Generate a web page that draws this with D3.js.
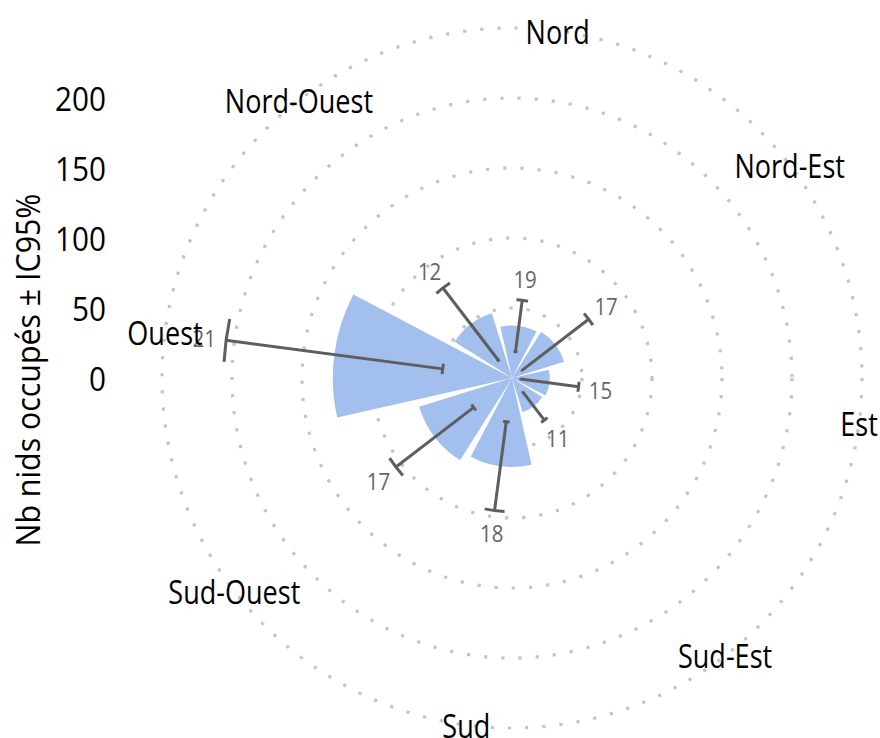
<!DOCTYPE html>
<html>
<head>
<meta charset="utf-8">
<script src="https://cdn.jsdelivr.net/npm/d3@7"></script>
<style>
  html, body { margin: 0; padding: 0; background: #fff; }
  svg text { font-family: "Open Sans", "Noto Sans", sans-serif; }
</style>
</head>
<body>
<svg id="chart" width="880" height="738"></svg>
<script>
// Orientation of the nest sites (clockwise from north)
const directions = ["Nord", "Nord-Est", "Est", "Sud-Est", "Sud", "Sud-Ouest", "Ouest", "Nord-Ouest"];
// Mean number of occupied nests per orientation
const nests = [37.5, 39, 27, 25.5, 63.5, 69.5, 128, 48.5];
// Half-width of the 95% confidence interval
const ci95 = [18.5, 30, 21, 12.5, 32, 35, 78, 32.5];
// Sample size shown beyond each interval
const sampleSizes = [19, 17, 15, 11, 18, 17, 21, 12];
// Radial axis
const radialTicks = [0, 50, 100, 150, 200];
const gridValues = [50, 100, 150, 200, 250];

const data = directions.map((d, i) => ({
  dir: d, value: nests[i], ci: ci95[i], n: sampleSizes[i]
}));

const svg = d3.select("#chart");
const cx = 512, cy = 378;
const deg = Math.PI / 180;

// Angular band scale, rotated so that the first sector is centred at 7.5°
const x = d3.scaleBand()
  .domain(directions)
  .range([-15 * deg, 345 * deg])
  .paddingInner(0.1)
  .paddingOuter(0.05);

const r = d3.scaleLinear().domain([0, 250]).range([0, 350]);

const mid = d => x(d) + x.bandwidth() / 2;
const pt = (a, rad) => [cx + rad * Math.sin(a), cy - rad * Math.cos(a)];
// Narrowed lettering, anchored at the label point
const place = (p, sx) => `translate(${p[0]},${p[1]}) scale(${sx},1)`;

const g = svg.append("g");

// Dotted circular gridlines
g.append("g").selectAll("circle")
  .data(gridValues)
  .join("circle")
  .attr("cx", cx).attr("cy", cy)
  .attr("r", d => r(d))
  .attr("fill", "none")
  .attr("stroke", "#c4c4c4")
  .attr("stroke-width", 3.2)
  .attr("stroke-dasharray", "3.2 14");

// Sector bars
const arc = d3.arc()
  .innerRadius(0)
  .outerRadius(d => r(d.value))
  .startAngle(d => x(d.dir))
  .endAngle(d => x(d.dir) + x.bandwidth());

g.append("g").selectAll("path")
  .data(data)
  .join("path")
  .attr("transform", `translate(${cx},${cy})`)
  .attr("d", arc)
  .attr("fill", "#a3bfee");

// Error bars: radial segment with arc-shaped caps
const capHalf = 4.3 * deg;
const capPath = (a, rad) => {
  const p = d3.path();
  const s = a - capHalf - Math.PI / 2, e = a + capHalf - Math.PI / 2;
  p.moveTo(cx + rad * Math.cos(s), cy + rad * Math.sin(s));
  p.arc(cx, cy, rad, s, e);
  return p.toString();
};

const eb = g.append("g")
  .attr("stroke", "#5e5e5e")
  .attr("stroke-width", 3)
  .attr("fill", "none");

data.forEach(d => {
  const a = mid(d.dir);
  const lo = r(d.value - d.ci), hi = r(d.value + d.ci);
  const p0 = pt(a, lo), p1 = pt(a, hi);
  eb.append("line")
    .attr("x1", p0[0]).attr("y1", p0[1])
    .attr("x2", p1[0]).attr("y2", p1[1]);
  eb.append("path").attr("d", capPath(a, lo));
  eb.append("path").attr("d", capPath(a, hi));
});

// Sample-size labels beyond the upper cap
g.append("g").selectAll("text")
  .data(data)
  .join("text")
  .attr("transform", d => place(pt(mid(d.dir), r(d.value + d.ci) + 22), 0.85))
  .attr("text-anchor", "middle")
  .attr("dominant-baseline", "central")
  .attr("font-size", 24)
  .attr("fill", "#666666")
  .text(d => d.n);

// Direction labels on the outer circle
g.append("g").selectAll("text")
  .data(directions)
  .join("text")
  .attr("transform", d => place(pt(mid(d), r(250)), 0.82))
  .attr("text-anchor", "middle")
  .attr("dominant-baseline", "central")
  .attr("font-size", 33)
  .attr("fill", "#000")
  .text(d => d);

// Radial tick labels
g.append("g").selectAll("text")
  .data(radialTicks)
  .join("text")
  .attr("transform", d => place([106, cy - r(d)], 0.9))
  .attr("text-anchor", "end")
  .attr("dominant-baseline", "central")
  .attr("font-size", 33)
  .attr("fill", "#000")
  .text(d => d);

// Axis title
svg.append("text")
  .attr("transform", `translate(40,370) rotate(-90) scale(0.92,1)`)
  .attr("text-anchor", "middle")
  .attr("font-size", 33)
  .attr("fill", "#000")
  .text("Nb nids occupés ± IC95%");
</script>
</body>
</html>
